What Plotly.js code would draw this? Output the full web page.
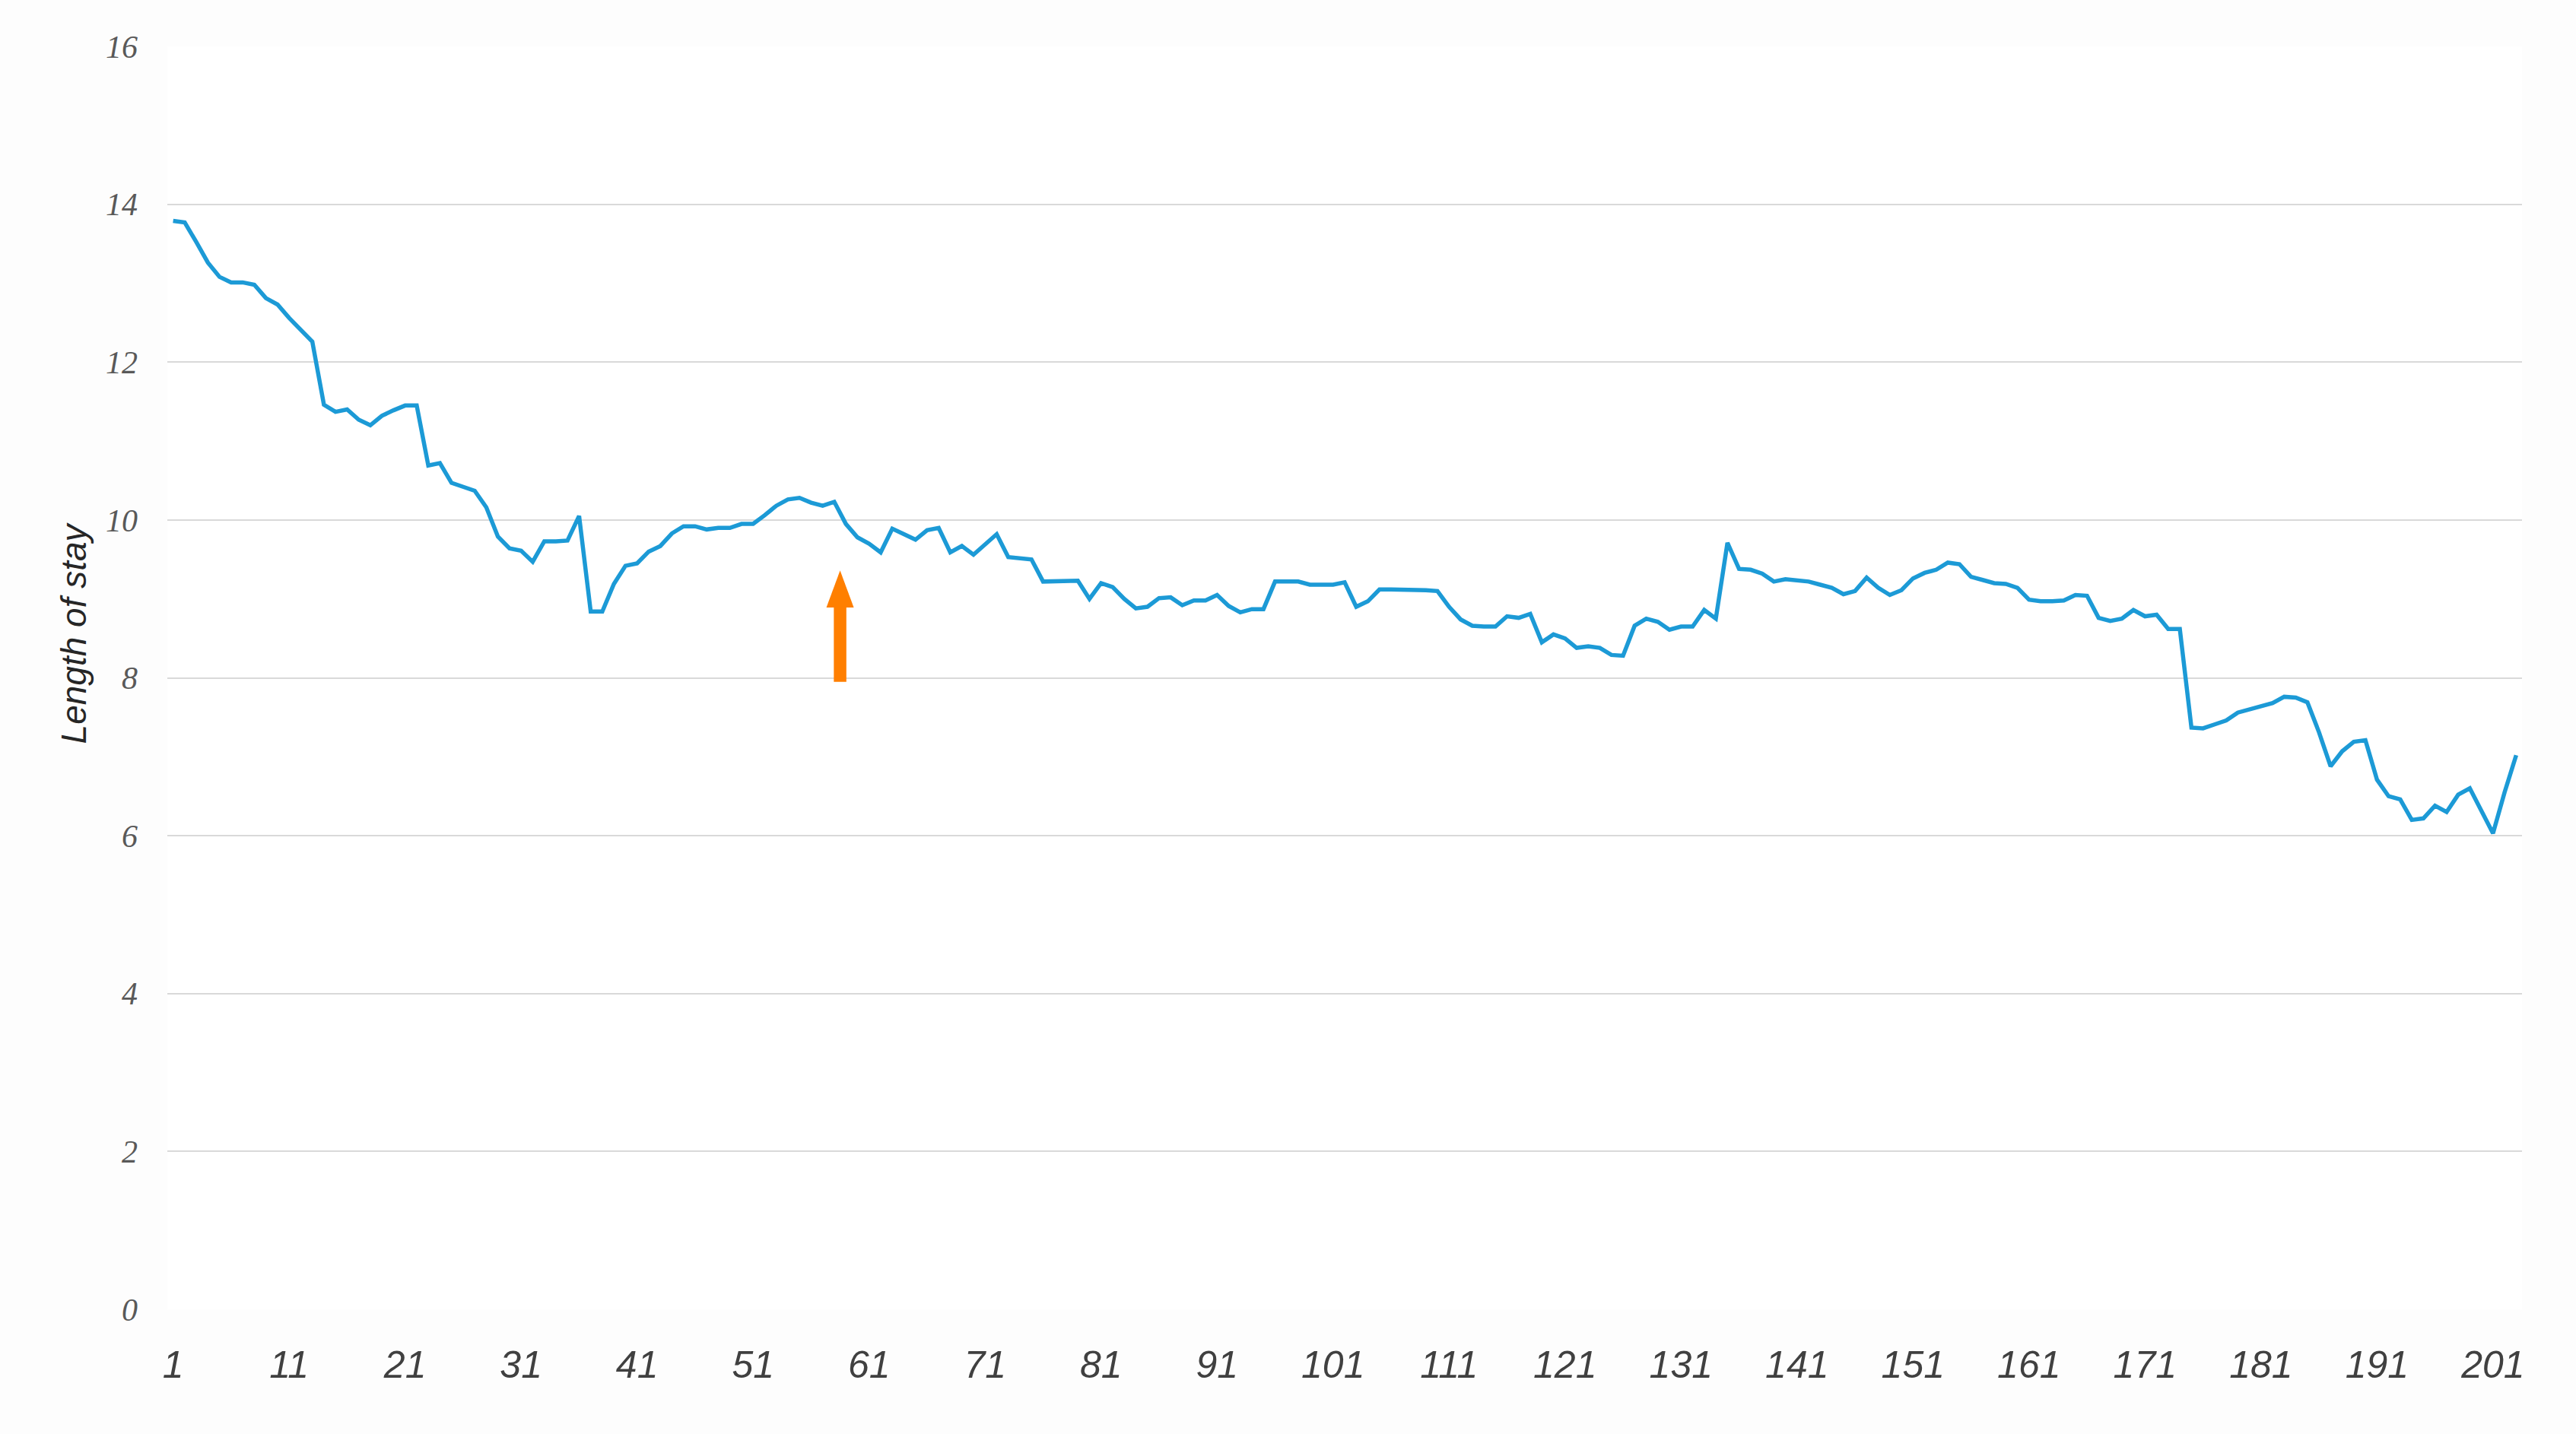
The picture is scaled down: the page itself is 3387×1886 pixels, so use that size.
<!DOCTYPE html>
<html>
<head>
<meta charset="utf-8">
<script src="https://cdn.plot.ly/plotly-3.0.1.min.js"></script>
<style>
  html, body { margin: 0; padding: 0; background: #fdfdfd; }
  #chart { width: 3387px; height: 1886px; }
</style>
</head>
<body>
<div id="chart"></div>
<script>
// Length of stay per period
const lengthOfStay = [
  13.79, 13.77, 13.52, 13.26, 13.08, 13.01, 13.01, 12.98, 12.81, 12.73,
  12.56, 12.41, 12.26, 11.46, 11.37, 11.40, 11.27, 11.20, 11.32, 11.39,
  11.45, 11.45, 10.69, 10.72, 10.47, 10.42, 10.37, 10.16, 9.79, 9.64,
  9.61, 9.47, 9.73, 9.73, 9.74, 10.05, 8.84, 8.84, 9.19, 9.42,
  9.45, 9.60, 9.67, 9.83, 9.92, 9.92, 9.88, 9.90, 9.90, 9.95,
  9.95, 10.06, 10.18, 10.26, 10.28, 10.22, 10.18, 10.23, 9.95, 9.78,
  9.70, 9.59, 9.89, 9.82, 9.75, 9.87, 9.90, 9.59, 9.67, 9.56,
  9.69, 9.82, 9.53, 9.51, 9.50, 9.22, 9.22, 9.22, 9.23, 9.00,
  9.20, 9.15, 9.00, 8.88, 8.90, 9.01, 9.02, 8.92, 8.98, 8.98,
  9.05, 8.91, 8.83, 8.87, 8.87, 9.22, 9.22, 9.22, 9.18, 9.18,
  9.18, 9.21, 8.90, 8.97, 9.12, 9.12, 9.12, 9.12, 9.11, 9.10,
  8.90, 8.74, 8.66, 8.65, 8.65, 8.78, 8.76, 8.81, 8.45, 8.55,
  8.50, 8.38, 8.40, 8.38, 8.29, 8.28, 8.66, 8.75, 8.71, 8.61,
  8.65, 8.65, 8.86, 8.75, 9.71, 9.38, 9.37, 9.32, 9.22, 9.25,
  9.23, 9.22, 9.18, 9.14, 9.06, 9.10, 9.27, 9.14, 9.05, 9.11,
  9.26, 9.33, 9.37, 9.46, 9.44, 9.28, 9.24, 9.20, 9.19, 9.14,
  8.99, 8.97, 8.97, 8.98, 9.05, 9.04, 8.76, 8.72, 8.75, 8.86,
  8.78, 8.80, 8.62, 8.62, 7.37, 7.36, 7.41, 7.46, 7.56, 7.60,
  7.64, 7.68, 7.76, 7.75, 7.69, 7.31, 6.88, 7.07, 7.19, 7.21,
  6.71, 6.50, 6.46, 6.20, 6.22, 6.38, 6.30, 6.52, 6.60, 6.30,
  6.03, 6.55, 7.02
];
// Period numbers (categories 1..N)
const periods = lengthOfStay.map((_, i) => i + 1);
const xTickValues = [1, 11, 21, 31, 41, 51, 61, 71, 81, 91, 101, 111, 121, 131, 141, 151, 161, 171, 181, 191, 201];
const yTickValues = [0, 2, 4, 6, 8, 10, 12, 14, 16];
const yAxisTitle = 'Length of stay';

// Orange marker arrow (period, value of base, value of tip)
const arrowPeriod = 58.5;
const arrowBase = 7.95;
const arrowTip = 9.36;

// arrow geometry (in axis units)
const shaftHalf = 0.54, headHalf = 1.18, headLen = 0.47;
const arrowColor = '#FF7F00';
const headBase = arrowTip - headLen;

const trace = {
  x: periods,
  y: lengthOfStay,
  type: 'scatter',
  mode: 'lines',
  line: { color: '#1C9AD6', width: 5.5 },
  hoverinfo: 'x+y'
};

const layout = {
  width: 3387,
  height: 1886,
  margin: { l: 220, r: 71, t: 61, b: 164, pad: 0 },
  paper_bgcolor: '#fdfdfd',
  plot_bgcolor: '#ffffff',
  showlegend: false,
  xaxis: {
    range: [0.5, 203.5],
    tickmode: 'array',
    tickvals: xTickValues,
    ticktext: xTickValues.map(String),
    showgrid: false,
    zeroline: false,
    showline: false,
    ticks: '',
    ticklabelstandoff: 39,
    tickfont: { family: 'Liberation Sans Narrow, Liberation Sans, Arial, sans-serif', size: 50, color: '#404040', style: 'italic' }
  },
  yaxis: {
    range: [0, 16],
    tickmode: 'array',
    tickvals: yTickValues,
    showgrid: true,
    gridcolor: '#D9D9D9',
    gridwidth: 2,
    zeroline: false,
    showline: false,
    ticks: '',
    ticklabelstandoff: 38,
    tickfont: { family: 'Liberation Serif, DejaVu Serif, serif', size: 42, color: '#595959', style: 'italic' }
  },
  annotations: [{
    text: yAxisTitle,
    xref: 'paper', yref: 'y',
    x: -0.0397, y: 8.57,
    xanchor: 'center', yanchor: 'middle',
    textangle: -90,
    showarrow: false,
    font: { family: 'Liberation Sans Narrow, Liberation Sans, Arial, sans-serif', size: 46, color: '#262626', style: 'italic' }
  }],
  shapes: [
    {
      type: 'rect', xref: 'x', yref: 'y',
      x0: arrowPeriod - shaftHalf, x1: arrowPeriod + shaftHalf,
      y0: arrowBase, y1: headBase + 0.02,
      fillcolor: arrowColor, line: { width: 0 }
    },
    {
      type: 'path', xref: 'x', yref: 'y',
      path: 'M ' + (arrowPeriod - headHalf) + ',' + headBase +
            ' L ' + arrowPeriod + ',' + arrowTip +
            ' L ' + (arrowPeriod + headHalf) + ',' + headBase + ' Z',
      fillcolor: arrowColor, line: { width: 0 }
    }
  ]
};

Plotly.newPlot('chart', [trace], layout, { displayModeBar: false, responsive: false });
</script>
</body>
</html>
